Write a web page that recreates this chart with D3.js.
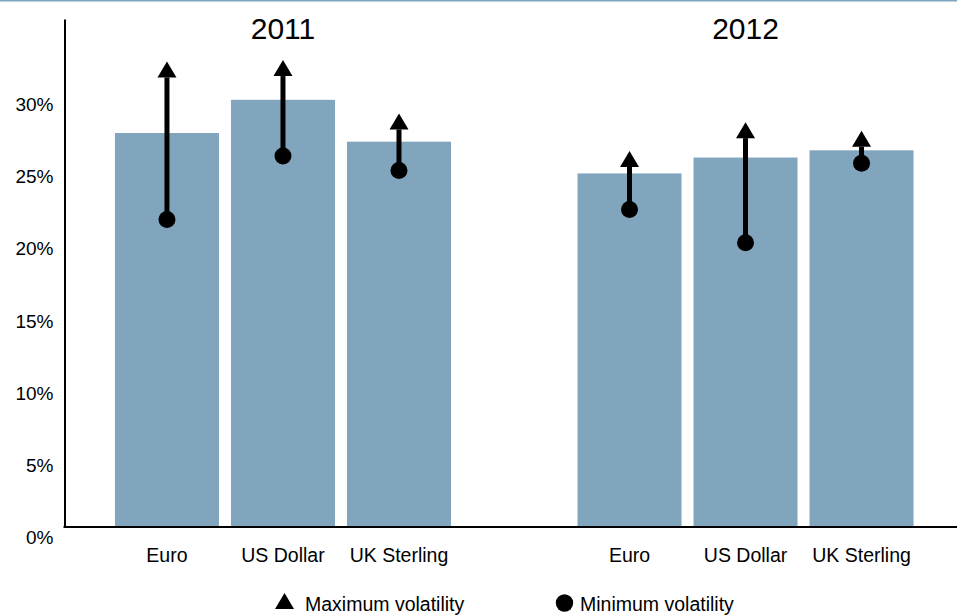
<!DOCTYPE html>
<html>
<head>
<meta charset="utf-8">
<script src="https://cdn.jsdelivr.net/npm/d3@7"></script>
<style>
  html, body { margin: 0; padding: 0; background: #ffffff; }
  svg { display: block; font-family: "Liberation Sans", Arial, Helvetica, sans-serif; }
</style>
</head>
<body>
<svg id="chart" width="957" height="616"></svg>
<script>
// Currency volatility: average (bar), with minimum (dot) and maximum (arrow head)
const years = ["2011", "2012"];
const currencies = ["Euro", "US Dollar", "UK Sterling"];
const avgVol2011 = [27.3, 29.6, 26.7];
const avgVol2012 = [24.5, 25.6, 26.1];
const minVol2011 = [21.3, 25.7, 24.7];
const minVol2012 = [22.0, 19.7, 25.2];
const maxVol2011 = [31.7, 31.8, 28.1];
const maxVol2012 = [25.5, 27.5, 26.9];
const yTicks = [0, 5, 10, 15, 20, 25, 30];

const rows = [];
years.forEach((yr, gi) => {
  const avg = gi === 0 ? avgVol2011 : avgVol2012;
  const mn = gi === 0 ? minVol2011 : minVol2012;
  const mx = gi === 0 ? maxVol2011 : maxVol2012;
  currencies.forEach((c, i) => rows.push({ year: yr, cur: c, avg: avg[i], min: mn[i], max: mx[i] }));
});

const svg = d3.select("#chart");
const W = 957, H = 616;
const barColor = "#80a5bd";

// thin rule along the top edge
svg.append("line")
  .attr("x1", 0).attr("x2", W).attr("y1", 0.75).attr("y2", 0.75)
  .attr("stroke", "#7ea4bf").attr("stroke-width", 1.5);

const x0 = d3.scaleBand().domain(years).range([65, 963.5]).paddingInner(0.2735).paddingOuter(0.108);
const x1 = d3.scaleBand().domain(currencies).range([0, x0.bandwidth()]).paddingInner(0.1034).paddingOuter(0);
const y = d3.scaleLinear().domain([0, 35.2]).range([527, 19]);

// bars
const groups = svg.append("g").selectAll("g")
  .data(years).join("g")
  .attr("transform", d => `translate(${x0(d)},0)`);

groups.selectAll("rect")
  .data(yr => rows.filter(r => r.year === yr))
  .join("rect")
  .attr("x", d => x1(d.cur))
  .attr("width", x1.bandwidth())
  .attr("y", d => y(d.avg))
  .attr("height", d => y(0) - y(d.avg))
  .attr("fill", barColor);

// group titles
svg.append("g").selectAll("text")
  .data(years).join("text")
  .attr("x", d => x0(d) + x0.bandwidth() / 2)
  .attr("y", 39)
  .attr("text-anchor", "middle")
  .attr("font-size", 30)
  .attr("fill", "#000")
  .text(d => d);

// category labels
groups.selectAll("text.cat")
  .data(yr => rows.filter(r => r.year === yr))
  .join("text")
  .attr("class", "cat")
  .attr("x", d => x1(d.cur) + x1.bandwidth() / 2)
  .attr("y", 561.5)
  .attr("text-anchor", "middle")
  .attr("font-size", 19.5)
  .attr("fill", "#000")
  .text(d => d.cur);

// min-to-max arrows
const triW = 19, triH = 16;
const arrows = groups.selectAll("g.arrow")
  .data(yr => rows.filter(r => r.year === yr))
  .join("g")
  .attr("class", "arrow")
  .attr("transform", d => `translate(${x1(d.cur) + x1.bandwidth() / 2},0)`);

arrows.append("line")
  .attr("x1", 0).attr("x2", 0)
  .attr("y1", d => y(d.min))
  .attr("y2", d => y(d.max) + triH / 2)
  .attr("stroke", "#000")
  .attr("stroke-width", 5);

arrows.append("path")
  .attr("d", d => {
    const cy = y(d.max);
    return `M0,${cy - triH / 2}L${triW / 2},${cy + triH / 2}L${-triW / 2},${cy + triH / 2}Z`;
  })
  .attr("fill", "#000");

arrows.append("circle")
  .attr("cx", 0)
  .attr("cy", d => y(d.min))
  .attr("r", 8.5)
  .attr("fill", "#000");

// y axis
const yAxis = d3.axisLeft(y)
  .tickValues(yTicks)
  .tickSize(0)
  .tickSizeOuter(0)
  .tickPadding(11)
  .tickFormat(d => d + "%");

const ya = svg.append("g")
  .attr("transform", "translate(64.5,0)")
  .call(yAxis);
ya.select(".domain").attr("stroke", "#000").attr("stroke-width", 2);
ya.selectAll("text")
  .attr("font-size", 19)
  .attr("font-family", "Liberation Sans, Arial, sans-serif")
  .attr("fill", "#000")
  .attr("dy", null)
  .attr("transform", "translate(0,16.5)");

// baseline
svg.append("line")
  .attr("x1", 63.5).attr("x2", W)
  .attr("y1", y(0)).attr("y2", y(0))
  .attr("stroke", "#000").attr("stroke-width", 2);

// legend
const legend = svg.append("g");
legend.append("path")
  .attr("d", `M284.5,593L294,609L275,609Z`)
  .attr("fill", "#000");
legend.append("text")
  .attr("x", 305).attr("y", 611)
  .attr("font-size", 19.5).attr("fill", "#000")
  .text("Maximum volatility");
legend.append("circle")
  .attr("cx", 564.5).attr("cy", 603).attr("r", 8.7)
  .attr("fill", "#000");
legend.append("text")
  .attr("x", 580).attr("y", 611)
  .attr("font-size", 19.5).attr("fill", "#000")
  .text("Minimum volatility");
</script>
</body>
</html>
